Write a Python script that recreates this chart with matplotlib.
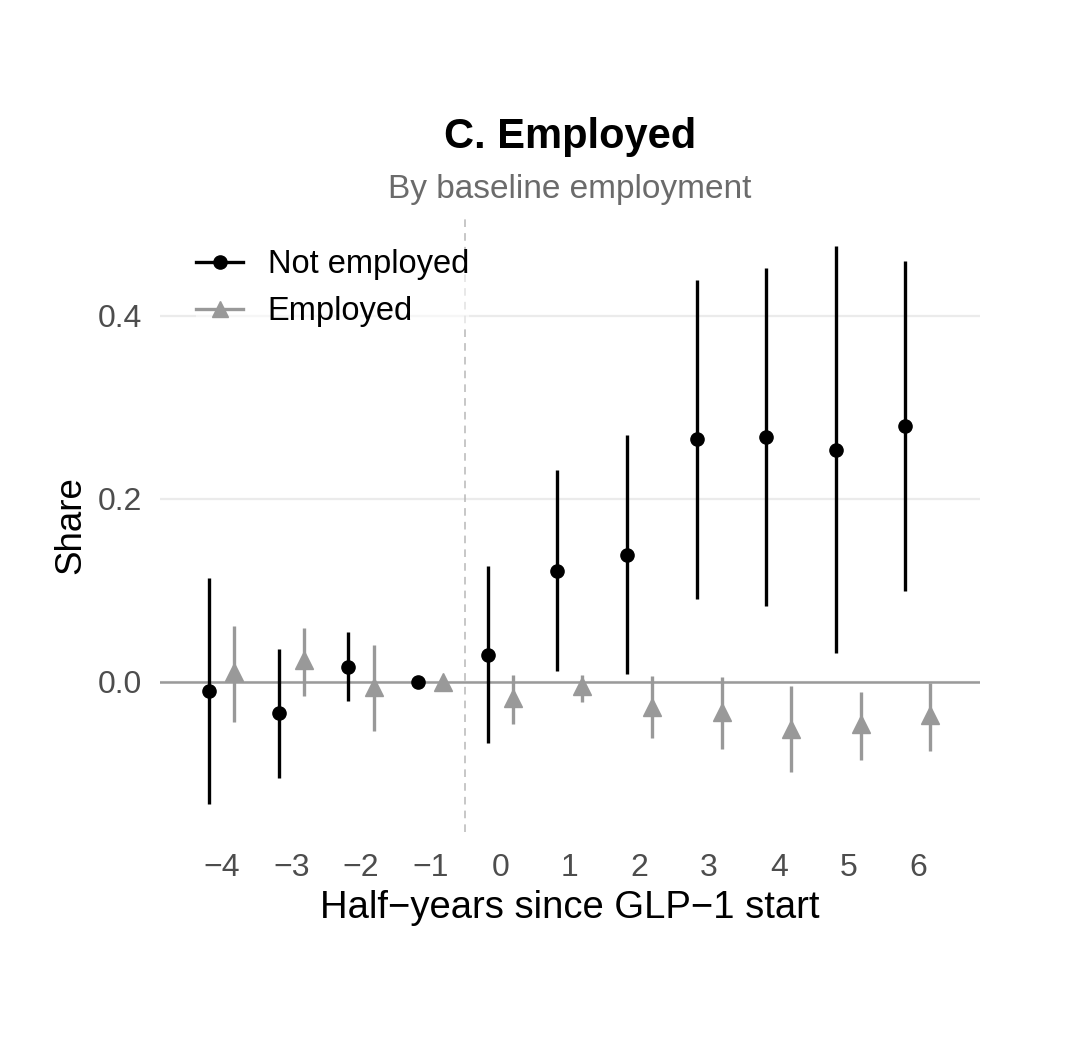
import matplotlib
matplotlib.use("Agg")
import matplotlib.pyplot as plt
from matplotlib.lines import Line2D
import numpy as np

plt.rcParams['font.family'] = ['Liberation Sans', 'DejaVu Sans']

# ---- data ----
periods = [-4, -3, -2, -1, 0, 1, 2, 3, 4, 5, 6]
tick_labels = ["−4", "−3", "−2", "−1", "0", "1", "2", "3", "4", "5", "6"]

notemp_est = [-0.010, -0.034, 0.016, 0.000, 0.029, 0.121, 0.139, 0.265, 0.267, 0.253, 0.280]
notemp_lo = [-0.133, -0.105, -0.021, 0.000, -0.067, 0.012, 0.009, 0.090, 0.083, 0.031, 0.099]
notemp_hi = [0.113, 0.036, 0.054, 0.000, 0.127, 0.231, 0.270, 0.439, 0.452, 0.476, 0.460]

emp_est = [0.011, 0.024, -0.006, 0.000, -0.018, -0.005, -0.027, -0.033, -0.051, -0.046, -0.036]
emp_lo = [-0.044, -0.015, -0.054, 0.000, -0.046, -0.022, -0.061, -0.073, -0.098, -0.085, -0.075]
emp_hi = [0.061, 0.059, 0.040, 0.000, 0.007, 0.008, 0.006, 0.005, -0.005, -0.011, -0.001]

series_names = ["Not employed", "Employed"]

# ---- figure ----
fig = plt.figure(figsize=(10.8, 10.6), dpi=100)
ax = fig.add_axes([0.148, 0.2151, 0.7593, 0.5786])

dodge = 0.18
x = np.array(periods, dtype=float)

black = "#000000"
grey = "#999999"

# reference lines
ax.axhline(0, color="#9a9a9a", lw=1.8, zorder=1)
ax.axvline(-0.5, color="#b8b8b8", lw=1.1, dashes=(5, 4), zorder=1)

def draw(xpos, est, lo, hi, color, marker, ms):
    est = np.array(est); lo = np.array(lo); hi = np.array(hi)
    ax.errorbar(xpos, est, yerr=[est - lo, hi - est], fmt=marker, color=color,
                ecolor=color, elinewidth=2.4, capsize=0, ms=ms, mec=color,
                mfc=color, zorder=3)

draw(x - dodge, notemp_est, notemp_lo, notemp_hi, black, "o", 9.5)
draw(x + dodge, emp_est, emp_lo, emp_hi, grey, "^", 13)

ax.set_xlim(-4.89, 6.89)
ax.set_ylim(-0.164, 0.506)
ax.set_xticks(periods)
ax.set_xticklabels(tick_labels)
ax.set_yticks([0.0, 0.2, 0.4])
ax.set_yticklabels(["0.0", "0.2", "0.4"])
ax.tick_params(axis="both", length=0, labelsize=23, labelcolor="#4d4d4d")
ax.tick_params(axis="x", pad=15)
ax.tick_params(axis="y", pad=13)
ax.grid(axis="y", color="#ebebeb", lw=1.6, zorder=0)
ax.grid(axis="x", visible=False)
ax.set_axisbelow(True)
for s in ax.spines.values():
    s.set_visible(False)

ax.set_xlabel("Half−years since GLP−1 start", fontsize=27.5, color="black")
ax.set_ylabel("Share", fontsize=26.5, color="black")
ax.xaxis.set_label_coords(0.5, -0.094)
ax.yaxis.set_label_coords(-0.087, 0.5)

fig.text(0.5278, 0.8604, "C. Employed", ha="center", va="baseline",
         fontsize=30, fontweight="bold", color="black")
fig.text(0.5278, 0.8130, "By baseline employment", ha="center", va="baseline",
         fontsize=24, color="#6b6b6b")

handles = [
    Line2D([], [], color=black, marker="o", ms=9.5, lw=2.4),
    Line2D([], [], color=grey, marker="^", ms=12, lw=2.4),
]
leg = fig.legend(handles, series_names, loc="center left",
                 bbox_to_anchor=(0.1815, 0.7280), bbox_transform=fig.transFigure,
                 fontsize=23.5, frameon=True, facecolor="white", edgecolor="none",
                 framealpha=0.6, borderpad=0.0, borderaxespad=0.0,
                 handlelength=1.45, handletextpad=0.75, labelspacing=0.5)

fig.savefig("out.png", dpi=100, facecolor="white")
